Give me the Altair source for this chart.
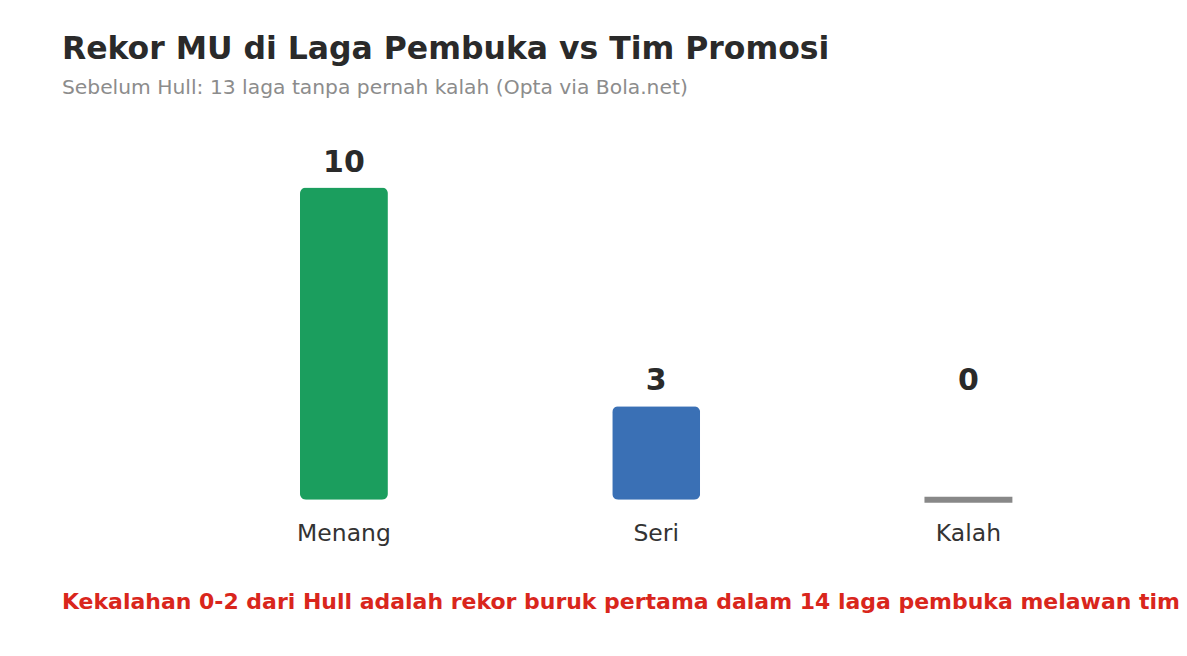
import altair as alt
import pandas as pd

categories = ["Menang", "Seri", "Kalah"]
values = [10, 3, 0]
colors = ["#1b9e5e", "#3a70b5", "#888888"]

title_text = "Rekor MU di Laga Pembuka vs Tim Promosi"
subtitle_text = "Sebelum Hull: 13 laga tanpa pernah kalah (Opta via Bola.net)"
footer_text = "Kekalahan 0-2 dari Hull adalah rekor buruk pertama dalam 14 laga pembuka melawan tim"

df = pd.DataFrame({"kategori": categories, "nilai": values, "warna": colors})

FONT = "DejaVu Sans"
W, H = 1118, 375

xenc = alt.X("kategori:N", sort=categories,
             scale=alt.Scale(range=[126, 1063.5], paddingInner=0, paddingOuter=0),
             axis=alt.Axis(title=None, domain=False, ticks=False, grid=False, labelAngle=0,
                           labelFontSize=23.5, labelFont=FONT, labelColor="#333333",
                           labelPadding=22))
yscale = alt.Scale(domain=[0, 12], nice=False)

base = alt.Chart(df)

bars = base.transform_filter("datum.nilai > 0").mark_bar(width=88, cornerRadius=6).encode(
    x=xenc,
    y=alt.Y("nilai:Q", scale=yscale, axis=None),
    color=alt.Color("warna:N", scale=None),
)

zero = base.transform_filter("datum.nilai == 0").mark_tick(
    thickness=6, size=88, opacity=1
).encode(
    x=xenc,
    y=alt.Y("nilai:Q", scale=yscale, axis=None),
    color=alt.Color("warna:N", scale=None),
)

labels = base.transform_calculate(pos="max(datum.nilai, 3)").mark_text(
    font=FONT, fontSize=30, fontWeight="bold", color="#2a2a2a", dy=-16, baseline="alphabetic"
).encode(
    x=xenc,
    y=alt.Y("pos:Q", scale=yscale, axis=None),
    text=alt.Text("nilai:Q"),
)

def txt(s, y, size, weight, color):
    return alt.Chart(pd.DataFrame({"t": [s]})).mark_text(
        font=FONT, fontSize=size, fontWeight=weight, color=color,
        align="left", baseline="alphabetic"
    ).encode(text="t:N", x=alt.value(0), y=alt.value(y))

title = txt(title_text, 59 - 125, 31.5, "bold", "#2a2a2a")
subtitle = txt(subtitle_text, 94 - 125, 20.3, "normal", "#8c8c8c")
footer = txt(footer_text, 609 - 125, 22, "bold", "#d9261c")

chart = alt.layer(bars, zero, labels, title, subtitle, footer).properties(
    width=W, height=H,
    background="white",
    autosize=alt.AutoSizeParams(type="none"),
    padding={"left": 54, "top": 117, "right": 0, "bottom": 138},
).configure_view(strokeWidth=0, stroke="transparent")

chart.save("out.html", embed_options={"renderer": "svg", "actions": False})
